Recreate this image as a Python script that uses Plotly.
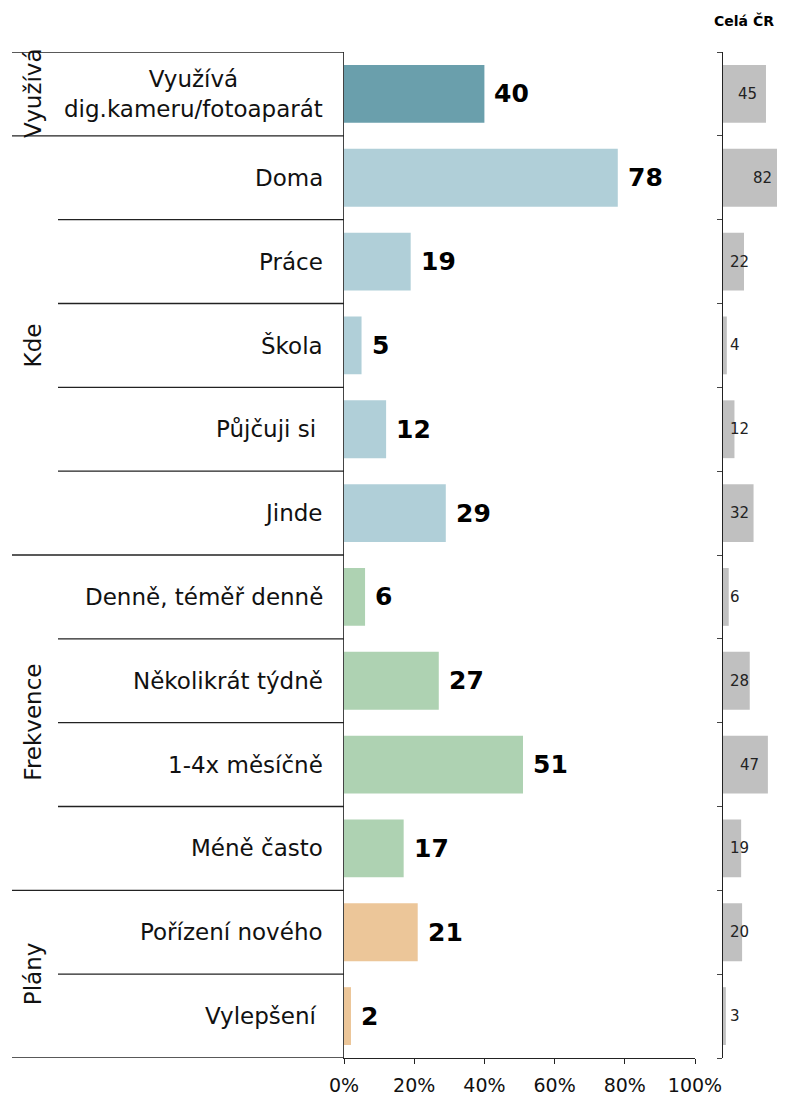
import plotly.graph_objects as go

# ---------------- data ----------------
groups = ["Využívá", "Kde", "Frekvence", "Plány"]
group_sizes = [1, 5, 4, 2]
categories = [
    "Využívá<br>dig.kameru/fotoaparát",
    "Doma", "Práce", "Škola", "Půjčuji si\u00a0", "Jinde",
    "Denně, téměř denně", "Několikrát týdně", "1-4x měsíčně", "Méně často",
    "Pořízení nového", "Vylepšení\u00a0",
]
region_values = [40, 78, 19, 5, 12, 29, 6, 27, 51, 17, 21, 2]
cr_values = [45, 82, 22, 4, 12, 32, 6, 28, 47, 19, 20, 3]
group_colors = ["#6a9fac", "#b0cfd8", "#aed2b2", "#ecc699"]
x_ticks = [0, 20, 40, 60, 80, 100]
x_tick_labels = ["0%", "20%", "40%", "60%", "80%", "100%"]
right_title = "Celá ČR"

# ---------------- layout helpers ----------------
OFF = 8                       # page body margin
W, H = 785 - 2 * OFF, 1101 - OFF
def px(x):
    return (x - OFF) / W
def py(y):
    return 1 - (y - OFF) / H

n = len(categories)
ys = list(range(n))
bar_colors = []
group_of_row = []
for g, (size, col) in enumerate(zip(group_sizes, group_colors)):
    bar_colors += [col] * size
    group_of_row += [g] * size

FONT = "DejaVu Sans"
fig = go.Figure()

fig.add_trace(go.Bar(
    x=region_values, y=ys, orientation="h",
    marker=dict(color=bar_colors, line=dict(width=0)),
    xaxis="x", yaxis="y", hoverinfo="skip", showlegend=False,
))
fig.add_trace(go.Bar(
    x=cr_values, y=ys, orientation="h",
    marker=dict(color="#c0c0c0", line=dict(width=0)),
    xaxis="x2", yaxis="y2", hoverinfo="skip", showlegend=False,
))

y_dom = [py(1058), py(52)]
y_range = [n - 0.5, -0.5]
x2_px_per_unit = 0.955
x2_max = (W + OFF - 723) / x2_px_per_unit

annotations = []
# category labels
for i, c in enumerate(categories):
    annotations.append(dict(
        x=0, y=i, xref="x", yref="y", text=c, showarrow=False,
        xanchor="right", yanchor="middle", xshift=-19, align="center",
        font=dict(family=FONT, size=23, color="#111"),
    ))
# value labels
for i, v in enumerate(region_values):
    annotations.append(dict(
        x=v, y=i, xref="x", yref="y", text=str(v), showarrow=False,
        xanchor="left", yanchor="middle", xshift=8,
        font=dict(family=FONT, size=25, color="#000", weight="bold"),
    ))
# right panel labels
for i, v in enumerate(cr_values):
    if v >= 40:
        if v <= x2_max:
            a = dict(x=v, xanchor="right", xshift=-7)
        else:
            a = dict(x=x2_max, xanchor="right", xshift=-3)
    else:
        a = dict(x=5, xanchor="left", xshift=0)
    a.update(y=i, xref="x2", yref="y2", text=str(v), showarrow=False,
             yanchor="middle", font=dict(family=FONT, size=15, color="#222"))
    annotations.append(a)
# group labels
start = 0
for g, size in zip(groups, group_sizes):
    mid = start + (size - 1) / 2
    annotations.append(dict(
        x=px(33), y=mid, xref="paper", yref="y", text=g, showarrow=False,
        textangle=-90, xanchor="center", yanchor="middle",
        font=dict(family=FONT, size=23, color="#111"),
    ))
    start += size
annotations.append(dict(
    x=px(744), y=py(20), xref="paper", yref="paper", text=right_title,
    showarrow=False, xanchor="center", yanchor="middle",
    font=dict(family=FONT, size=14, color="#000", weight="bold"),
))

# table lines
shapes = []
for i in range(n + 1):
    yb = i - 0.5
    if i == 0 or i == n or group_of_row[i] != group_of_row[i - 1]:
        x0 = px(12)
    else:
        x0 = px(58)
    shapes.append(dict(
        type="line", xref="paper", yref="y", x0=x0, x1=px(344), y0=yb, y1=yb,
        line=dict(color="#222", width=1.3),
    ))

fig.update_layout(
    width=W, height=H, autosize=False,
    margin=dict(l=0, r=0, t=0, b=0, pad=0, autoexpand=False),
    paper_bgcolor="white", plot_bgcolor="white",
    bargap=0.31,
    annotations=annotations, shapes=shapes,
    xaxis=dict(
        domain=[px(344), px(695)], range=[0, 100], anchor="y", automargin=False,
        tickvals=x_ticks, ticktext=x_tick_labels, ticks="outside", ticklen=5,
        ticklabelstandoff=5,
        tickcolor="#222", showline=True, linecolor="#222", linewidth=1.3,
        showgrid=False, zeroline=False,
        tickfont=dict(family=FONT, size=19, color="#111"),
    ),
    yaxis=dict(
        domain=y_dom, range=y_range, anchor="x", automargin=False,
        showline=True, linecolor="#444", linewidth=1.3,
        showticklabels=False, ticks="", showgrid=False, zeroline=False,
    ),
    xaxis2=dict(
        domain=[px(723), 1.0], range=[0, x2_max], anchor="y2", automargin=False,
        visible=False, showgrid=False, zeroline=False,
    ),
    yaxis2=dict(
        domain=y_dom, range=y_range, anchor="x2", automargin=False,
        showline=True, linecolor="#222", linewidth=1.3,
        tickvals=[i - 0.5 for i in range(n + 1)], ticktext=[""] * (n + 1),
        ticks="outside", ticklen=5, tickcolor="#444",
        showgrid=False, zeroline=False,
    ),
)

fig.write_html("out.html", config={"responsive": False})
